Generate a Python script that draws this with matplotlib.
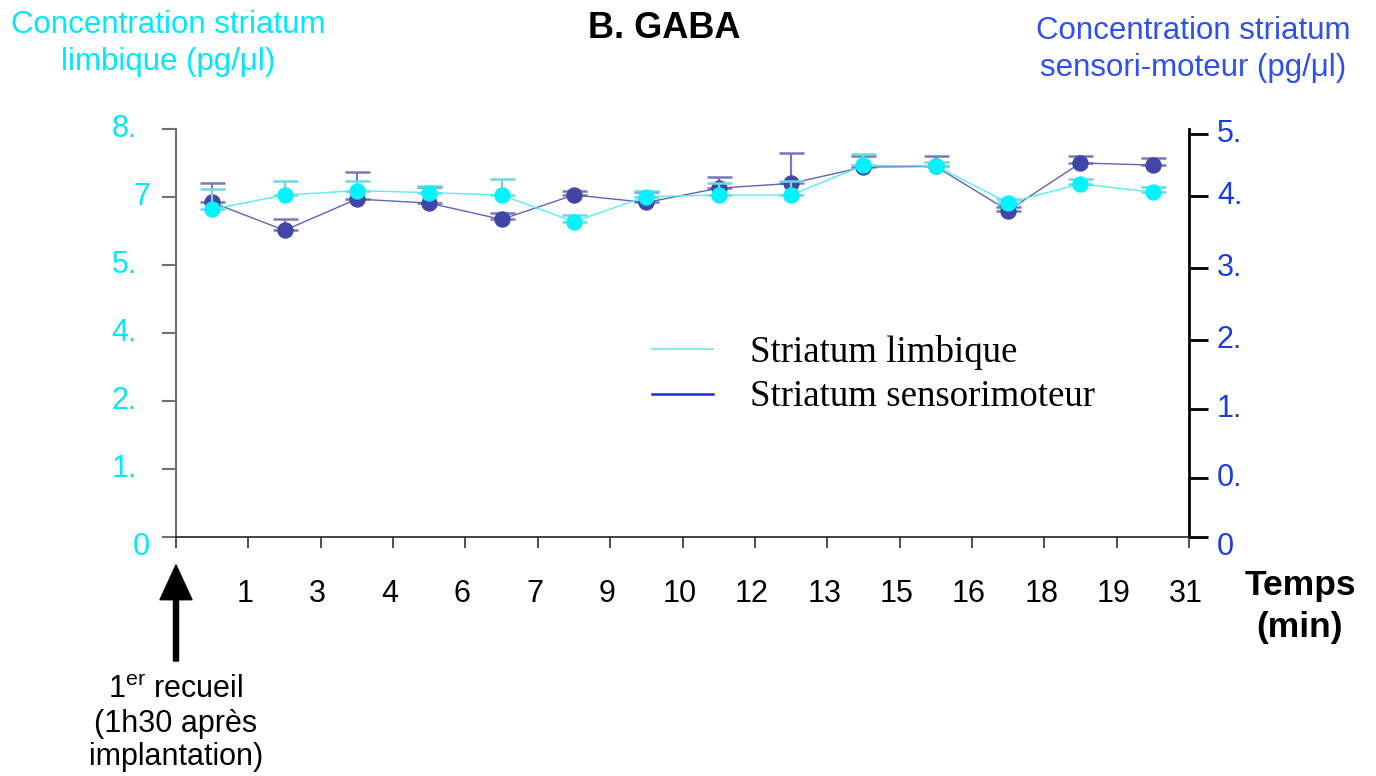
import matplotlib
matplotlib.use("Agg")
import matplotlib.pyplot as plt
from matplotlib.lines import Line2D
from matplotlib.transforms import ScaledTranslation
import numpy as np

plt.rcParams['font.family'] = ['Liberation Sans', 'DejaVu Sans']
plt.rcParams['mathtext.fontset'] = 'custom'
plt.rcParams['mathtext.rm'] = 'Liberation Sans'

# ---- data ----
time_labels = ['1', '3', '4', '6', '7', '9', '10', '12', '13', '15', '16', '18', '19', '31']
limbique = [6.75, 7.04, 7.13, 7.09, 7.04, 6.49, 7.01, 7.04, 7.04, 7.65, 7.64, 6.88, 7.27, 7.10]
limbique_err = [0.41, 0.29, 0.20, 0.14, 0.33, 0.14, 0.11, 0.25, 0.29, 0.24, 0.08, 0.08, 0.10, 0.10]
sensori = [4.92, 4.51, 4.97, 4.91, 4.67, 5.03, 4.92, 5.13, 5.20, 5.44, 5.45, 4.80, 5.50, 5.47]
sensori_err = [0.28, 0.17, 0.40, 0.24, 0.10, 0.06, 0.16, 0.17, 0.44, 0.17, 0.16, 0.06, 0.10, 0.11]
left_ticks = [0, 1.4, 2.8, 4.2, 5.6, 7, 8.4]
left_tick_labels = ['0', '1.', '2.', '4.', '5.', '7', '8.']
right_ticks = [0, 0.87, 1.88, 2.9, 3.96, 5.01, 5.92]
right_tick_labels = ['0', '0.', '1.', '2.', '3.', '4.', '5.']

W, H = 1376, 776
def fx(x): return x / W
def fy(y): return 1 - y / H

CYAN_TXT = '#00e8fa'
BLUE_TXT = '#1a3ddc'

fig = plt.figure(figsize=(W / 100, H / 100), dpi=100)
ax = fig.add_axes([fx(176), fy(537), fx(1189) - fx(176), fy(129) - fy(537)])
ax2 = ax.twinx()
ax.set_zorder(ax2.get_zorder() + 1)
ax.patch.set_visible(False)

n = len(time_labels)
xs = np.arange(n) + 0.5

# sensorimotor on right axis
ax2.errorbar(xs, sensori, yerr=[np.zeros(n), sensori_err], fmt='none',
             ecolor='#7878bc', elinewidth=1.6, capsize=9, capthick=1.8, zorder=2)
ax2.plot(xs, sensori, color='#6262b8', lw=1.0, marker='o', ms=10.8,
         mfc='#4046a6', mec='#4046a6', zorder=3)
# limbique on left axis
ax.errorbar(xs, limbique, yerr=[np.zeros(n), limbique_err], fmt='none',
            ecolor='#6fd8dc', elinewidth=1.6, capsize=9, capthick=1.8, zorder=2)
ax.plot(xs, limbique, color='#55eef2', lw=1.0, marker='o', ms=10.8,
        mfc='#00f4ff', mec='#00f4ff', zorder=3)

ax.set_xlim(0, n)
ax.set_ylim(0, 8.4)
ax2.set_ylim(0, 6)

# x axis
ax.set_xticks(np.arange(n + 1))
ax.set_xticklabels([''] + time_labels, fontsize=22)
ax.tick_params(axis='x', direction='out', length=8, width=1.2, color='#333333', pad=22)
shift = ScaledTranslation(-3 / 100, 0, fig.dpi_scale_trans)
for lbl in ax.get_xticklabels():
    lbl.set_transform(lbl.get_transform() + shift)

# y ticks (labels drawn manually)
ax.set_yticks(left_ticks)
ax.set_yticklabels([])
ax.tick_params(axis='y', direction='out', length=10, width=1.5, color='#707070')
ax2.set_yticks(right_ticks)
ax2.set_yticklabels([])
ax2.tick_params(axis='y', direction='out', length=14, width=2, color='black')

for v, lab in zip(left_ticks, left_tick_labels):
    xr = 137 if lab.endswith('.') else 150
    off = 10 if v == 0 else 0
    yp = ax.transData.transform((0, v))[1]
    fig.text(fx(xr), (yp - off) / H, lab, ha='right', va='center', fontsize=22, color=CYAN_TXT)
for v, lab in zip(right_ticks, right_tick_labels):
    off = 10 if v == 0 else 0
    yp = ax2.transData.transform((0, v))[1]
    fig.text(fx(1217), (yp - off) / H, lab, ha='left', va='center', fontsize=22, color=BLUE_TXT)

for a in (ax, ax2):
    a.spines['top'].set_visible(False)
ax.spines['left'].set_color('#707070')
ax.spines['left'].set_linewidth(1.5)
ax.spines['bottom'].set_color('#222222')
ax.spines['bottom'].set_linewidth(1.2)
ax.spines['right'].set_visible(False)
ax2.spines['left'].set_visible(False)
ax2.spines['bottom'].set_visible(False)
ax2.spines['right'].set_color('black')
ax2.spines['right'].set_linewidth(2)

# legend
handles = [Line2D([], [], color='#8ee6f0', lw=1.5), Line2D([], [], color='#2030c0', lw=1.8)]
ax.legend(handles, ['Striatum limbique', 'Striatum sensorimoteur'],
          loc='upper left', bbox_to_anchor=(fx(652), fy(335)), bbox_transform=fig.transFigure,
          frameon=False, borderpad=0, borderaxespad=0, handlelength=1.66, handletextpad=1.0,
          labelspacing=0.27, prop={'family': 'Liberation Serif', 'size': 26.6})

# titles
fig.text(fx(664), fy(28), 'B. GABA', ha='center', va='center', fontsize=26, fontweight='bold')
fig.text(fx(168), fy(25), 'Concentration striatum', ha='center', va='center', fontsize=22.5, color=CYAN_TXT)
fig.text(fx(168), fy(62), 'limbique (pg/μl)', ha='center', va='center', fontsize=22.5, color=CYAN_TXT)
fig.text(fx(1193), fy(31), 'Concentration striatum', ha='center', va='center', fontsize=22.5, color='#2f4ff0')
fig.text(fx(1193), fy(68), 'sensori-moteur (pg/μl)', ha='center', va='center', fontsize=22.5, color='#2f4ff0')
fig.text(fx(1300), fy(585), 'Temps', ha='center', va='center', fontsize=25.5, fontweight='bold')
fig.text(fx(1299), fy(628), '(min)', ha='center', va='center', fontsize=25.5, fontweight='bold')

# arrow and annotation
ax.annotate('', xy=(176, H - 565), xytext=(176, H - 661), xycoords='figure pixels',
            textcoords='figure pixels',
            arrowprops=dict(width=3.6, headwidth=23, headlength=25, color='black', shrink=0))
fig.text(fx(176), fy(690), '1$^{\\rm er}$ recueil', ha='center', va='center', fontsize=22)
fig.text(fx(176), fy(724), '(1h30 après', ha='center', va='center', fontsize=22)
fig.text(fx(176), fy(757), 'implantation)', ha='center', va='center', fontsize=22)

fig.savefig('out.png', dpi=100)
